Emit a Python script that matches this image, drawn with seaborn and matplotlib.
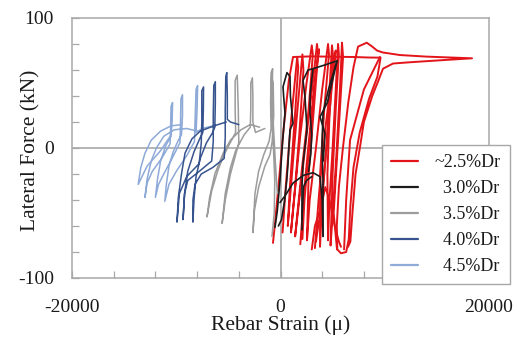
import numpy as np
import pandas as pd
import matplotlib
matplotlib.use("Agg")
import matplotlib.pyplot as plt
from matplotlib.ticker import MultipleLocator
from matplotlib.lines import Line2D
import seaborn as sns

# ---------------- data ----------------
series_labels = ["~2.5%Dr", "3.0%Dr", "3.5%Dr", "4.0%Dr", "4.5%Dr"]
legend_labels = ["~2.5%Dr", "  3.0%Dr", "  3.5%Dr", "  4.0%Dr", "  4.5%Dr"]
series_colors = ["#e3151a", "#1c1c1c", "#9c9c9c", "#38548f", "#8eaad8"]
series_widths = [1.4, 1.2, 1.1, 1.1, 1.1]

# ~2.5%Dr (red) : strain (micro) / lateral force (kN), one list per trace
red_x = [
    [-720, -530, -200, 300, 800, 1200, 3000, 5000, 7000, 8500, 9600, 9300, 8500, 7600, 7000,
     6700, 6550, 6300, 5800, 5450, 5400, 5600, 6000, 6500, 7000, 7440, 8270, 8800, 9250, 9800,
     11460, 14000, 18370, 15000, 12500, 10800, 9830, 9400, 8800, 8000, 7630, 7200, 6900, 6700, 6480],
    [200, 500, 1000, 1600, 1700, 1300, 900, 700,
     900, 1300, 1800, 2100, 2200, 1800, 1400, 1000,
     1300, 1900, 2500, 3000, 3100, 2700, 2000, 1400,
     1800, 2500, 3100, 3500, 3600, 3200, 2700, 2540,
     2800, 3400, 4000, 4560, 4650, 4200, 3800, 3790,
     4000, 4400, 4700, 4940, 5050, 4700, 4500, 4560,
     4700, 5000, 5300, 5520, 5600, 5300, 5000, 4800,
     5100, 5400, 5700, 5900, 6000, 5700, 5400, 5100, 5420],
    [6100, 6300, 6670, 8000, 9540],
    [3000, 3300, 3900, 4300, 4700, 5200, 5600, 5800],
    [1900, 2300, 2900, 3400, 3700, 3300, 2800, 2300, 2100],
    [3300, 3700, 4300, 5000, 5300, 4900, 4400, 3900, 3400],
]
red_y = [
    [-73, -58, -30, 15, 52, 70, 70.5, 70.2, 70, 69.6, 69.5, 55, 38, 12, -15,
     -45, -70, -80, -81, -78, -60, -30, 1, 35, 62, 78, 81, 78, 75, 73.5,
     71.5, 70.3, 69, 67.3, 66, 65, 61, 52, 40, 20, 1, -20, -50, -72, -76],
    [-65, -30, 20, 70, 62, 15, -30, -60,
     -40, 0, 45, 72, 60, 10, -30, -65,
     -40, 10, 50, 79, 72, 30, -20, -68,
     -40, 10, 50, 80, 72, 30, -20, -71,
     -40, 0, 45, 80, 72, 30, -20, -76,
     -40, 0, 45, 79, 70, 25, -20, -71,
     -40, 0, 45, 80, 72, 30, -20, -75,
     -40, 0, 45, 81, 70, 30, -10, -50, -78],
    [-78, -40, 6, 45, 70],
    [-78, -60, -45, -30, -40, -60, -72, -76],
    [-74, -30, 20, 60, 76, 50, 5, -40, -70],
    [-77, -35, 15, 60, 75, 45, 0, -45, -72],
]

# 3.0%Dr (black)
black_x = [
    [-530, -300, -50, 200, 430, 300, 240, 620, 910, 950, 1100, 1200, 910, 800, 720, 600, 400, 100, -200],
    [-50, 500, 1200, 2200, 3120, 3790, 4000, 4080],
    [2060, 2060, 2160, 2540, 2350, 2160, 2640, 3120, 4300, 5420, 4600, 4080, 3980, 4080, 4080],
    [3120, 2830, 2830, 3000, 2900, 2700],
    [2060, 2200, 2500, 3000],
    [5420, 4500, 3790, 4270, 4100],
]
black_y = [
    [-61, -48, -25, 5, 27, 40, 47, 58, 55, 40, 27, 19, 14, 0, -12, -25, -40, -55, -60],
    [-42, -36, -27, -21, -19, -22, -40, -68],
    [-63, -30, -12, 14, 39, 52, 60, 61, 64, 67, 45, 27, 1, -25, -68],
    [61, 40, 27, 10, -5, -18],
    [-55, -30, -25, -22],
    [67, 35, 24, 11, -10],
]

# 3.5%Dr (gray)
gray_x = [
    [-300, -500, -700, -800, -750, -900, -950, -900, -1100, -1600, -2100, -2450, -2640,
     -2500, -2100, -1500, -1000, -800, -650, -700, -850, -900, -700, -550, -600, -820],
    [-1500, -2400, -2650, -2650, -2700, -2850, -2850, -2900, -3500, -4300, -4800, -5300, -5600,
     -5300, -4800, -4300, -4000, -4050, -4150, -4350, -4350, -4300, -4700, -5400, -6000, -6600, -7050,
     -6800, -6300, -5500, -4800, -3800, -2900, -2000],
]
gray_y = [
    [-35, -10, 20, 45, 61, 58, 35, 15, 5, -5, -18, -35, -65,
     -48, -30, -14, -5, 5, 25, 50, 55, 30, 5, -25, -50, -68],
    [15, 12, 20, 40, 54, 50, 30, 16, 10, -2, -15, -35, -58,
     -40, -20, -5, 4, 30, 56, 52, 30, 12, 6, -5, -17, -33, -53,
     -38, -20, -4, 6, 14, 18, 16],
]

# 4.0%Dr (dark blue)
dblue_x = [
    [-4000, -4800, -5100, -5100, -5150, -5250, -5300, -5300, -5400,
     -6500, -7600, -8200, -8400, -8400,
     -8300, -8100, -7700, -7100, -6500, -6300, -6250, -6250, -6400, -6450, -6450, -6600,
     -7800, -8900, -9200, -9350,
     -9200, -8900, -8300, -7700, -7450, -7400, -7380, -7550, -7550, -7600, -7800,
     -9000, -9700, -9930,
     -9800, -9500, -9160, -8500, -7700, -7050, -6000, -5200],
]
dblue_y = [
    [18, 20, 22, 40, 58, 55, 30, 8, -8,
     -15, -20, -28, -40, -57,
     -40, -22, -8, 4, 12, 16, 35, 51, 48, 25, 5, -10,
     -18, -25, -35, -55,
     -35, -18, -3, 8, 12, 30, 47, 44, 20, 4, -12,
     -22, -35, -57,
     -38, -20, -4, 7, 13, 15, 18, 20],
]

# 4.5%Dr (light blue)
lblue_x = [
    [-6500, -7500, -8100, -8000, -7950, -8100, -8200, -8250,
     -9000, -10000, -10700, -11100,
     -10950, -10700, -10300, -9800, -9500, -9400, -9400, -9550, -9600, -9650,
     -10400, -11200, -11700, -12000,
     -11800, -11500, -11000, -10500, -10400, -10350, -10500, -10550, -10600,
     -11400, -12300, -12800, -13000,
     -12800, -12400, -11900, -11200, -10200, -9000, -8000],
    [-10500, -11500, -12800, -13650, -13400, -13000, -12400, -11500, -10500, -9500],
]
lblue_y = [
    [17, 15, 12, 30, 48, 45, 20, 5,
     -6, -18, -28, -41,
     -28, -14, -3, 6, 10, 25, 41, 38, 15, 4,
     -8, -20, -28, -38,
     -24, -10, 2, 9, 20, 35, 32, 12, 3,
     -8, -18, -27, -38,
     -24, -10, 0, 9, 14, 15, 13],
    [10, -2, -14, -28, -15, -4, 6, 13, 17, 18],
]

x_ticks_labeled = [-20000, 0, 20000]
y_ticks_labeled = [-100, 0, 100]

# ---------------- build long table ----------------
rows = []
all_x = [red_x, black_x, gray_x, dblue_x, lblue_x]
all_y = [red_y, black_y, gray_y, dblue_y, lblue_y]
for lab, xs, ys in zip(series_labels, all_x, all_y):
    for k, (sx, sy) in enumerate(zip(xs, ys)):
        for i, (a, b) in enumerate(zip(sx, sy)):
            rows.append({"series": lab, "trace": f"{lab}-{k}", "order": i,
                         "strain": a, "force": b})
df = pd.DataFrame(rows)

# ---------------- plot ----------------
sns.set_style("white")
plt.rcParams["font.family"] = ["Liberation Serif", "DejaVu Serif"]

fig = plt.figure(figsize=(5.2, 3.38), dpi=100)
ax = fig.add_axes([72 / 520, 1 - 278 / 338, 417 / 520, 260 / 338])

axis_gray = "#a8a8a8"
ax.axhline(0, color=axis_gray, lw=1.2, zorder=1)
ax.axvline(0, color=axis_gray, lw=1.2, zorder=1)

draw_order = ["~2.5%Dr", "3.0%Dr", "3.5%Dr", "4.5%Dr", "4.0%Dr"]
for z, lab in enumerate(draw_order):
    i = series_labels.index(lab)
    sub = df[df["series"] == lab]
    sns.lineplot(data=sub, x="strain", y="force", units="trace", estimator=None,
                 sort=False, color=series_colors[i], linewidth=series_widths[i],
                 legend=False, ax=ax, zorder=2 + z)

ax.set_xlim(-20000, 20000)
ax.set_ylim(-100, 100)
ax.xaxis.set_minor_locator(MultipleLocator(4000))
ax.yaxis.set_minor_locator(MultipleLocator(20))
ax.set_xticks(x_ticks_labeled)
ax.set_yticks(y_ticks_labeled)
ax.set_xticklabels([str(v) for v in x_ticks_labeled])
ax.set_yticklabels([str(v) for v in y_ticks_labeled])

ax.tick_params(axis="both", which="both", direction="in", length=5, width=0.9,
               color=axis_gray, labelsize=14, labelcolor="#1a1a1a")
ax.tick_params(axis="x", which="both", pad=15, top=False, bottom=True)
ax.tick_params(axis="y", which="both", pad=13, left=True, right=False)

for s in ax.spines.values():
    s.set_visible(True)
    s.set_color(axis_gray)
    s.set_linewidth(1.1)

ax.set_xlabel("Rebar Strain (\u03bc)", fontsize=15.5, color="#1a1a1a")
ax.set_ylabel("Lateral Force (kN)", fontsize=15.5, color="#1a1a1a")
ax.xaxis.set_label_coords(0.5, -0.145)
ax.yaxis.set_label_coords(-0.075, 0.49)

handles = [Line2D([0], [0], color=c, lw=1.6) for c in series_colors]
leg = ax.legend(handles, legend_labels, loc="upper left",
                bbox_to_anchor=((382 - 72) / 417, (278 - 145) / 260),
                borderaxespad=0, frameon=True, fancybox=False, fontsize=13,
                handlelength=1.5, handletextpad=0.9, labelspacing=0.5,
                borderpad=0.5, framealpha=1)
leg.get_frame().set_edgecolor(axis_gray)
leg.get_frame().set_linewidth(1.0)
leg.set_zorder(20)
for t in leg.get_texts():
    t.set_color("#1a1a1a")

fig.savefig("out.png", dpi=100)
